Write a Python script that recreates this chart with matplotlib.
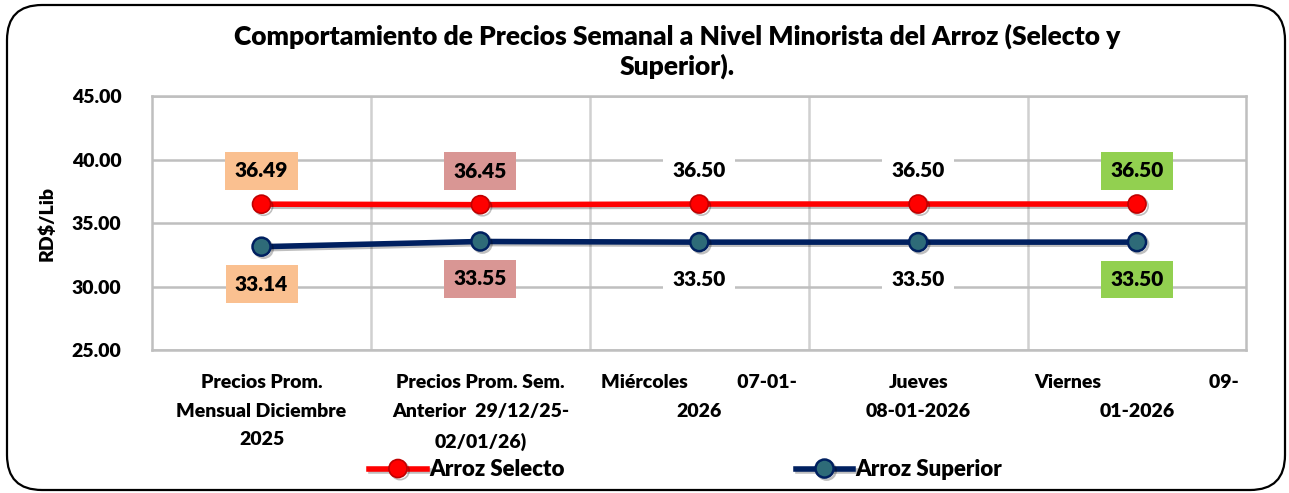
import matplotlib
matplotlib.use("Agg")
import matplotlib.pyplot as plt
from matplotlib.patches import FancyBboxPatch
import matplotlib.patheffects as pe

plt.rcParams['font.family'] = ['Lato', 'DejaVu Sans']

# datos
categorias = ["Precios Prom.\nMensual Diciembre\n2025",
              "Precios Prom. Sem.\nAnterior  29/12/25-\n02/01/26)",
              "Miércoles           07-01-\n2026",
              "Jueves\n08-01-2026",
              "Viernes                        09-\n01-2026"]
selecto = [36.49, 36.45, 36.50, 36.50, 36.50]
superior = [33.14, 33.55, 33.50, 33.50, 33.50]
colores_caja = ["#FAC090", "#D99694", "white", "white", "#92D050"]

W = "heavy"

fig = plt.figure(figsize=(12.89, 4.93), dpi=100)
ax = fig.add_axes([0.118, 0.29, 0.849, 0.515])

x = list(range(len(categorias)))
sombra = [pe.SimpleLineShadow(offset=(1.5, -1.5), alpha=0.25), pe.Normal()]
ax.plot(x, selecto, color="#FF0000", lw=4, marker="o", ms=13,
        mfc="#FF0000", mec="#C00000", mew=1.2, label="Arroz Selecto",
        path_effects=sombra, zorder=4)
ax.plot(x, superior, color="#002060", lw=4, marker="o", ms=13,
        mfc="#2E6B78", mec="#002060", mew=1.8, label="Arroz Superior",
        path_effects=sombra, zorder=4)

for i in x:
    ax.annotate(f"{selecto[i]:.2f}", (i, selecto[i]), xytext=(0, 24),
                textcoords="offset points", ha="center", va="center",
                fontsize=15, fontweight=W,
                bbox=dict(boxstyle="square,pad=0.45", fc=colores_caja[i], ec="none"))
    ax.annotate(f"{superior[i]:.2f}", (i, superior[i]), xytext=(0, -27),
                textcoords="offset points", ha="center", va="center",
                fontsize=15, fontweight=W,
                bbox=dict(boxstyle="square,pad=0.45", fc=colores_caja[i], ec="none"))

ax.set_xlim(-0.5, 4.5)
ax.set_ylim(25, 45)
ax.set_yticks([25, 30, 35, 40, 45])
ax.set_yticklabels([f"{v:.2f}" for v in [25, 30, 35, 40, 45]], fontsize=14, fontweight=W)
ax.set_xticks(x)
ax.set_xticklabels(categorias, fontsize=14, fontweight=W, linespacing=1.85)
ax.set_xticks([0.5, 1.5, 2.5, 3.5], minor=True)
ax.tick_params(axis="both", which="both", length=0)
ax.tick_params(axis="x", pad=17)
ax.tick_params(axis="y", pad=22)
ax.grid(axis="y", color="#BFBFBF", lw=1.8)
ax.grid(axis="x", which="minor", color="#D0D0D0", lw=1.8)
for s in ax.spines.values():
    s.set_color("#BFBFBF")
    s.set_linewidth(1.8)
ax.set_axisbelow(True)

ax.set_ylabel("RD$/Lib", fontsize=14, fontweight=W, labelpad=12)

fig.text(0.525, 0.8955, "Comportamiento de Precios Semanal a Nivel Minorista del Arroz (Selecto y\nSuperior).",
         ha="center", va="center", fontsize=19, fontweight=W, linespacing=1.2)

fig.legend(loc="center", bbox_to_anchor=(0.532, 0.047), ncol=2, frameon=False,
           handlelength=2.6, handletextpad=0.1, columnspacing=10.4,
           prop={"weight": W, "size": 16})

borde = FancyBboxPatch((0.07, 0.03), 12.78, 4.85,
                       boxstyle="round,pad=0,rounding_size=0.35",
                       transform=fig.dpi_scale_trans, fill=False,
                       ec="black", lw=1.6)
fig.patches.append(borde)

fig.savefig("out.png", dpi=100)
